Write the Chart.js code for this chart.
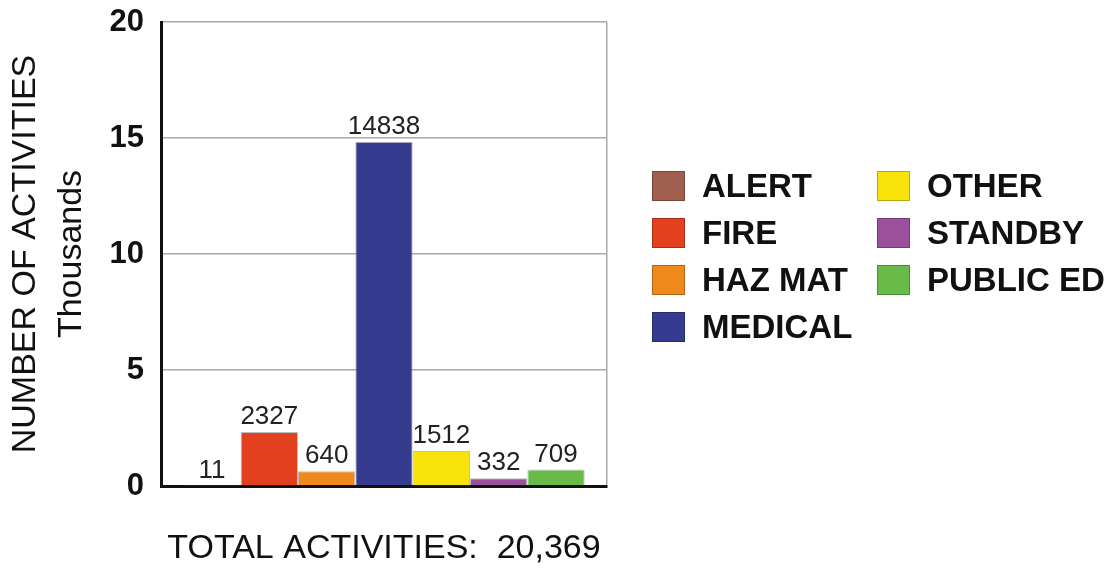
<!DOCTYPE html>
<html>
<head>
<meta charset="utf-8">
<script src="https://cdn.jsdelivr.net/npm/chart.js@4"></script>
<style>
  html, body { margin: 0; padding: 0; background: #fff; }
  #wrap { position: relative; width: 1113px; height: 568px; }
  #legend {
    position: absolute; left: 652px; top: 162px;
    display: grid; grid-template-rows: repeat(4, 47px); grid-auto-flow: column;
    grid-template-columns: 225px auto;
    font: bold 33px "Liberation Sans", Arial, sans-serif; color: #111;
  }
  #legend .item { display: flex; align-items: center; }
  #legend .box { width: 33px; height: 30px; margin-right: 17px; box-sizing: border-box; border: 1px solid rgba(0,0,0,0.25); }
</style>
</head>
<body>
<div id="wrap">
  <canvas id="chart" width="1113" height="568"></canvas>
  <div id="legend"></div>
</div>
<script>
// activity counts, plotted in thousands
var categories = ['ALERT', 'FIRE', 'HAZ MAT', 'MEDICAL', 'OTHER', 'STANDBY', 'PUBLIC ED'];
var counts = [11, 2327, 640, 14838, 1512, 332, 709];
var colors = ['#a1604f', '#e2401e', '#ee891b', '#353b8f', '#f8e30a', '#9a509b', '#68bb48'];
var yTicks = [0, 5, 10, 15, 20];
var totalLabel = 'TOTAL ACTIVITIES:  20,369';

var font = '"Liberation Sans", Arial, sans-serif';

var datasets = categories.map(function(name, i) {
  return {
    label: name,
    data: [counts[i] / 1000],
    backgroundColor: colors[i],
    borderColor: 'rgba(0,0,0,0.25)',
    borderWidth: 1,
    categoryPercentage: 0.9,
    barPercentage: 1
  };
});

// numbers over the bars
var valueLabels = {
  id: 'valueLabels',
  afterDatasetsDraw: function(chart) {
    var ctx = chart.ctx;
    ctx.save();
    ctx.font = '26px ' + font;
    ctx.fillStyle = '#222';
    ctx.textAlign = 'center';
    ctx.textBaseline = 'alphabetic';
    chart.data.datasets.forEach(function(ds, i) {
      var bar = chart.getDatasetMeta(i).data[0];
      ctx.fillText(String(counts[i]), bar.x, bar.y - 8);
    });
    ctx.restore();
  }
};

new Chart(document.getElementById('chart'), {
  type: 'bar',
  data: { labels: [''], datasets: datasets },
  options: {
    responsive: false,
    animation: false,
    layout: { padding: { top: 22, right: 506, left: 0, bottom: 0 } },
    plugins: { legend: { display: false }, tooltip: { enabled: false } },
    scales: {
      x: {
        offset: true,
        grid: {
          drawTicks: false,
          lineWidth: 1.5,
          color: function(c) { return c.index === 0 ? 'rgba(0,0,0,0)' : '#aaa'; }
        },
        border: { color: '#111', width: 3 },
        ticks: { display: false },
        title: {
          display: true, text: totalLabel, color: '#111',
          font: { family: font, size: 34, lineHeight: 1 },
          padding: { top: 0, bottom: 2 }
        },
        afterFit: function(s) { s.height = 82; s.paddingLeft = 0; s.paddingRight = 0; }
      },
      y: {
        min: 0, max: 20,
        afterBuildTicks: function(s) { s.ticks = yTicks.map(function(v) { return { value: v }; }); },
        grid: {
          drawTicks: false,
          lineWidth: 1.5,
          color: function(c) { return c.tick && c.tick.value === 0 ? 'rgba(0,0,0,0)' : '#aaa'; }
        },
        border: { color: '#111', width: 3 },
        ticks: { color: '#111', padding: 17, font: { family: font, size: 31, weight: 'bold' } },
        title: {
          display: true, text: ['NUMBER OF ACTIVITIES', 'Thousands'], color: '#111',
          font: { family: font, size: 34, lineHeight: 1.35 },
          padding: { top: 3, bottom: 0 }
        },
        afterFit: function(s) { s.width = 161; s.paddingTop = 0; s.paddingBottom = 0; }
      }
    }
  },
  plugins: [valueLabels]
});

// legend, two columns
var legend = document.getElementById('legend');
categories.forEach(function(name, i) {
  var item = document.createElement('div');
  item.className = 'item';
  var box = document.createElement('span');
  box.className = 'box';
  box.style.background = colors[i];
  item.appendChild(box);
  item.appendChild(document.createTextNode(name));
  legend.appendChild(item);
});
</script>
</body>
</html>
